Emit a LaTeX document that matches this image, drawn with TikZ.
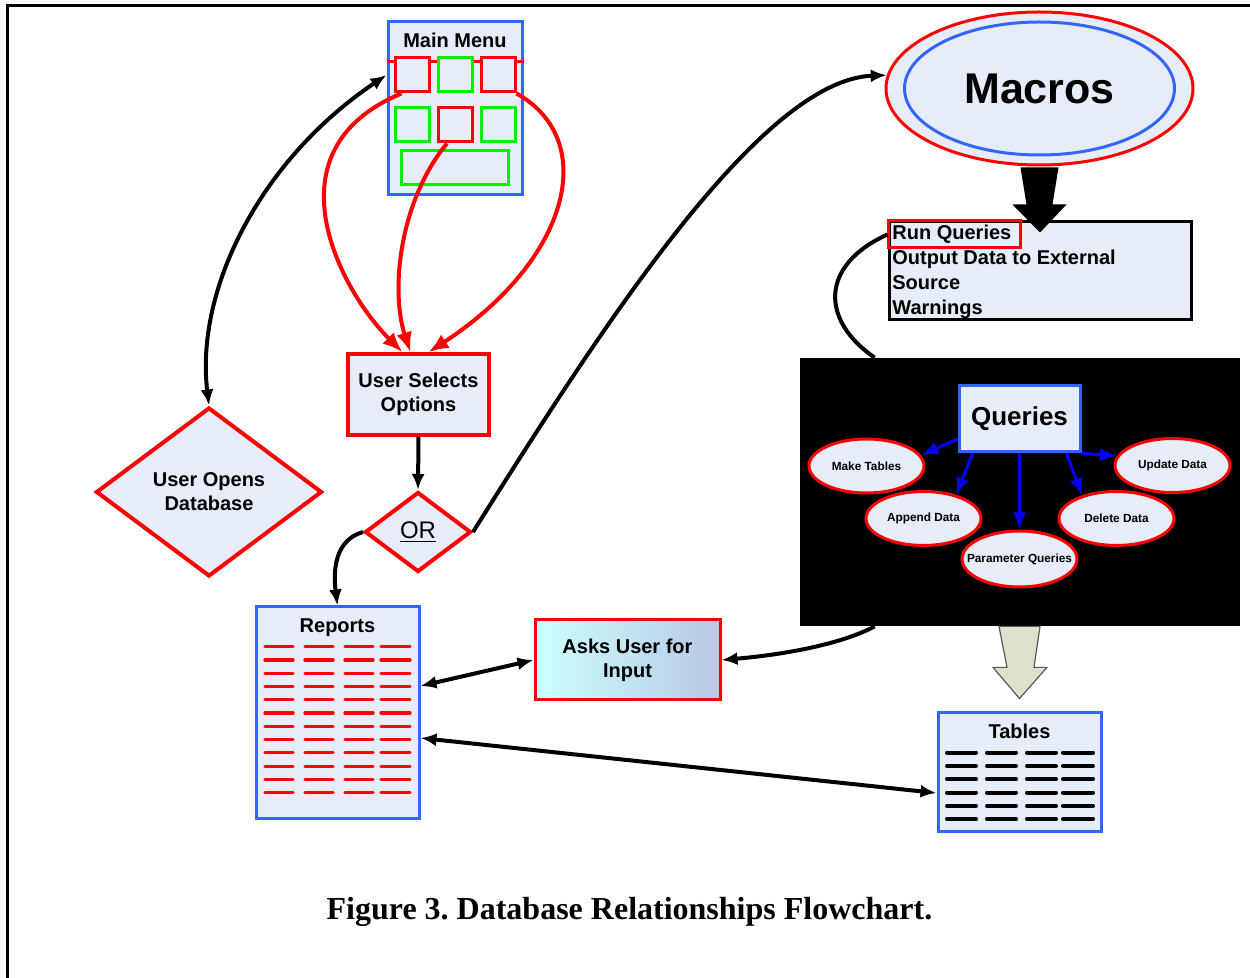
\documentclass[tikz,border=0pt]{standalone}
\usepackage{fontspec}
\setmainfont{Liberation Sans}
\newfontfamily\captionfont{Liberation Serif}
\usetikzlibrary{arrows.meta}
\usetikzlibrary{shapes.geometric}
\usetikzlibrary{positioning}
\usetikzlibrary{calc}

\definecolor{panefill}{RGB}{231,237,248}
\definecolor{paneblue}{RGB}{51,102,255}
\definecolor{menugreen}{RGB}{0,240,0}
\definecolor{inputleft}{RGB}{204,255,255}
\definecolor{inputright}{RGB}{184,200,228}
\definecolor{khaki}{RGB}{222,224,204}

\begin{document}
\begin{tikzpicture}[
            x=0.5pt, y=-0.5pt,
            every node/.style={font=\bfseries},
            boxtext/.style={font=\bfseries\fontsize{10}{12}\selectfont},
            pane/.style={rectangle, draw=paneblue, fill=panefill, line width=1.5pt},
            redpane/.style={rectangle, draw=red, fill=panefill, line width=1.75pt, align=center, boxtext},
            menukey/.style={rectangle, draw=#1, fill=panefill, line width=1.5pt, minimum width=17pt, minimum height=17pt, inner sep=0pt},
            decision/.style={diamond, draw=red, fill=panefill, line width=2pt, inner sep=0pt, align=center},
            queryop/.style={ellipse, draw=red, fill=panefill, line width=1.5pt, inner sep=0pt, minimum width=57.5pt, minimum height=27pt, font=\bfseries\fontsize{5.9}{7}\selectfont},
            menupick/.style={draw=red, line width=2pt, -{Latex[length=10pt,width=8pt]}},
            queryarrow/.style={draw=blue, line width=1.5pt, -{Latex[length=8.5pt,width=6.5pt]}},
            flow/.style={line width=2pt}
        ]
        \tikzset{>={Latex[length=8pt,width=6.5pt]}}
        \useasboundingbox (0,0) rectangle (1250,978);
        \draw[line width=1.5pt] (7,978) -- (7,6) -- (1250,6);

        % main menu
        \node[pane, minimum width=67pt, minimum height=86.5pt] (mainmenu) at (455,108.5) {};
        \node[boxtext] (menu title) at (455,40) {Main Menu};
        \draw[red, line width=1.5pt] ([yshift=23.25pt]mainmenu.west) -- ([yshift=23.25pt]mainmenu.east);
        \node[menukey=red] (mm11) at (412,75) {};
        \node[menukey=menugreen] (mm12) at (455.5,75) {};
        \node[menukey=red] (mm13) at (498,75) {};
        \node[menukey=menugreen] (mm21) at (412,125) {};
        \node[menukey=red] (mm22) at (455.5,125) {};
        \node[menukey=menugreen] (mm23) at (498,125) {};
        \node[menukey=menugreen, minimum width=53.5pt] (mm31) at (454.5,168) {};

        % left flow
        \node[decision, minimum width=113pt, minimum height=84.5pt, boxtext] (opendb) at (209,492) {User Opens\\Database};
        \node[redpane, minimum width=70.5pt, minimum height=40.5pt] (selects) at (418.5,394.5) {User Selects\\Options};
        \node[decision, minimum width=53pt, minimum height=40pt, font=\fontsize{12}{14}\selectfont] (orgate) at (418,532) {\underline{OR}};

        % reports
        \node[pane, minimum width=81.5pt, minimum height=106pt] (reports) at (337.5,713) {};
        \node[boxtext, anchor=base] (reports title) at (337.5,633) {Reports};
        \foreach \r in {0,...,11}
            \foreach \a/\b in {265/293,305/333,345/373,381/410}
                \draw[red, line width=1.6pt, line cap=round] (\a,{646.7+13.27*\r}) -- (\b,{646.7+13.27*\r});

        \node[rectangle, draw=red, line width=1.5pt, left color=inputleft, right color=inputright, minimum width=92.5pt, minimum height=40pt, align=center, boxtext] (asks) at (627.5,660) {Asks User for\\Input};

        % macros
        \node[ellipse, draw=red, fill=panefill, line width=1.5pt, minimum width=153.5pt, minimum height=76.5pt] (macros) at (1039.5,88.5) {};
        \node[ellipse, draw=paneblue, line width=1.5pt, minimum width=135pt, minimum height=66.5pt, font=\bfseries\fontsize{21.5}{24}\selectfont] (macros inner) at (macros.center) {Macros};

        \node[rectangle, draw=black, fill=panefill, line width=1.5pt, minimum width=151pt, minimum height=49pt] (runq) at (1040,271) {};
        \node[anchor=north west, inner sep=0pt, align=left, font=\bfseries\fontsize{10}{12.5}\selectfont] (runq text) at (892,225) {Run Queries\\Output Data to External\\Source\\Warnings};
        \node[rectangle, draw=red, line width=1.5pt, minimum width=66pt, minimum height=13.5pt] (runq mark) at (954,234.5) {};
        \fill ($(macros.south)+(-19,1)$) -- ($(macros.south)+(19,1)$) -- ($(macros.south)+(13,38)$) -- ($(macros.south)+(27,38)$)
            -- ($(runq.north)+(0,12)$) -- ($(macros.south)+(-27,38)$) -- ($(macros.south)+(-13,38)$) -- cycle;

        % queries panel
        \node[rectangle, fill=black, minimum width=220pt, minimum height=134pt, inner sep=0pt] (qpanel) at (1020,492) {};
        \node[pane, minimum width=60.5pt, minimum height=33pt, font=\bfseries\fontsize{13}{15}\selectfont] (queries) at (1019.5,419) {Queries};
        \node[queryop] (maketables) at (866.5,466) {Make Tables};
        \node[queryop] (updatedata) at (1172.5,465.5) {Update Data};
        \node[queryop] (appenddata) at (923.5,518.5) {Append Data};
        \node[queryop] (deletedata) at (1116.5,518.5) {Delete Data};
        \node[queryop, minimum height=28pt] (paramqueries) at (1019.5,559) {\makebox[0pt]{Parameter Queries}};
        \draw[queryarrow] ([yshift=-10pt]queries.west) -- (maketables.11);
        \draw[queryarrow] ([xshift=-23.5pt]queries.south) -- (appenddata.36);
        \draw[queryarrow] (queries.south) -- (paramqueries.north);
        \draw[queryarrow] ([xshift=23.5pt]queries.south) -- (deletedata.146);
        \draw[queryarrow] (queries.south east) -- (updatedata.170);

        % tables
        \node[pane, minimum width=81.5pt, minimum height=59.5pt] (tables) at (1019.5,772.5) {};
        \node[boxtext, anchor=base] (tables title) at (1019.5,739) {Tables};
        \foreach \r in {0,...,5}
            \foreach \a/\b in {947/976,987/1016,1027/1056,1063/1093}
                \draw[line width=2pt, line cap=round] (\a,{752.7+13.3*\r}) -- (\b,{752.7+13.3*\r});
        \filldraw[fill=khaki, draw=gray!70!black, line width=0.6pt] ($(qpanel.south)+(-21,0)$) -- ($(qpanel.south)+(20,0)$) -- ($(qpanel.south)+(14,41)$)
            -- ($(qpanel.south)+(27,41)$) -- ($(tables.north)+(0,-13)$) -- ($(qpanel.south)+(-27,41)$) -- ($(qpanel.south)+(-13,41)$) -- cycle;

        % connectors
        \draw[flow, <->] (mainmenu.west |- mm11.center) .. controls (260,160) and (195,290) .. (opendb.north);
        \draw[menupick] ([xshift=4pt]mm11.south west) .. controls (265,150) and (340,290) .. ([xshift=-8pt]selects.north);
        \draw[menupick] ([xshift=-4.25pt]mm22.south) .. controls (400,200) and (390,290) .. ([xshift=-4pt]selects.north);
        \draw[menupick] (mm13.south east) .. controls (600,140) and (570,260) .. ([xshift=5pt]selects.north);
        \draw[flow, ->] (selects.south) -- (orgate.north);
        \draw[flow, ->] (orgate.west) .. controls (335,540) and (333,570) .. (reports.north);
        \draw[flow, ->] (orgate.east) .. controls (600,330) and (760,80) .. (macros.175);
        \draw[flow] ([yshift=18.25pt]runq.west) .. controls (820,265) and (820,320) .. ([xshift=37.5pt]qpanel.north west);
        \draw[flow, ->] ([xshift=37.5pt]qpanel.south west) .. controls (840,645) and (780,655) .. (asks.east);
        \draw[flow, <->] ([yshift=13.5pt]reports.east) -- (asks.west);
        \draw[flow, <->] ([yshift=-12.5pt]reports.east) -- ([yshift=-10.25pt]tables.west);

        \node[anchor=base, font=\captionfont\bfseries\fontsize{16}{19}\selectfont] (caption) at (629.5,920) {\frenchspacing Figure 3. Database Relationships Flowchart.};
    \end{tikzpicture}
\end{document}
